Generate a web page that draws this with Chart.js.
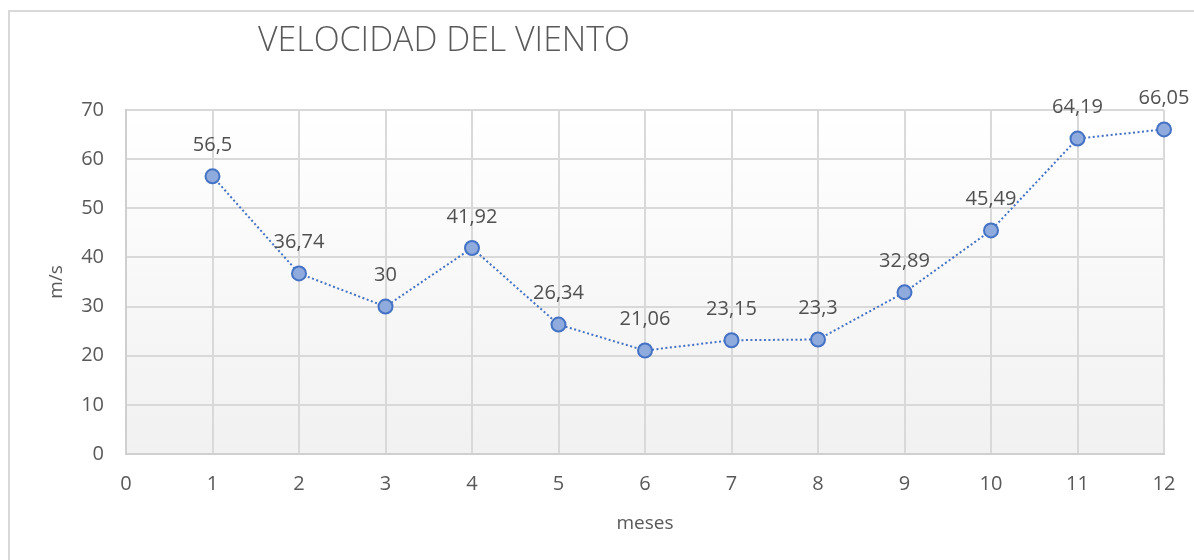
<!DOCTYPE html>
<html>
<head>
<meta charset="utf-8">
<script src="https://cdn.jsdelivr.net/npm/chart.js@4/dist/chart.umd.min.js"></script>
<style>
  html, body { margin: 0; padding: 0; background: #ffffff; }
  canvas { display: block; }
</style>
</head>
<body>
<canvas id="vientoChart" width="1194" height="560"></canvas>
<script>
const chartTitle = 'VELOCIDAD DEL VIENTO';
const meses = [1, 2, 3, 4, 5, 6, 7, 8, 9, 10, 11, 12];
const velocidad = [56.5, 36.74, 30, 41.92, 26.34, 21.06, 23.15, 23.3, 32.89, 45.49, 64.19, 66.05];
const xTicks = [0, 1, 2, 3, 4, 5, 6, 7, 8, 9, 10, 11, 12];
const yTicks = [0, 10, 20, 30, 40, 50, 60, 70];

const textColor = '#595959';
const gridColor = '#d9d9d9';

// outer frame, plot gradient and title (Excel look)
const backgroundPlugin = {
  id: 'excelBackground',
  beforeDraw(chart) {
    const ctx = chart.ctx;
    const a = chart.chartArea;
    ctx.save();
    ctx.strokeStyle = gridColor;
    ctx.lineWidth = 2;
    ctx.strokeRect(9, 11, 1300, 700);

    const grad = ctx.createLinearGradient(0, a.top, 0, a.bottom);
    grad.addColorStop(0, '#ffffff');
    grad.addColorStop(1, '#f1f1f1');
    ctx.fillStyle = grad;
    ctx.fillRect(a.left, a.top, a.right - a.left, a.bottom - a.top);

    ctx.font = '300 34px "Open Sans"';
    ctx.fillStyle = textColor;
    ctx.textBaseline = 'middle';
    ctx.textAlign = 'left';
    const w = ctx.measureText(chartTitle).width;
    ctx.translate(258, 41);
    ctx.scale(372 / w, 1);
    ctx.fillText(chartTitle, 0, 0);
    ctx.restore();
  }
};

// value labels above each point, decimal comma
const labelPlugin = {
  id: 'valueLabels',
  afterDatasetsDraw(chart) {
    const ctx = chart.ctx;
    const meta = chart.getDatasetMeta(0);
    ctx.save();
    ctx.font = '20px "Open Sans"';
    ctx.fillStyle = '#505050';
    ctx.textAlign = 'center';
    ctx.textBaseline = 'middle';
    meta.data.forEach((pt, i) => {
      const txt = String(velocidad[i]).replace('.', ',');
      ctx.fillText(txt, pt.x, pt.y - 31);
    });
    ctx.restore();
  }
};

const ctx = document.getElementById('vientoChart').getContext('2d');

new Chart(ctx, {
  type: 'scatter',
  data: {
    datasets: [{
      data: meses.map((m, i) => ({ x: m, y: velocidad[i] })),
      showLine: true,
      borderColor: '#4472c4',
      borderWidth: 2,
      borderDash: [2, 2.5],
      pointRadius: 7,
      pointHoverRadius: 7,
      pointBackgroundColor: '#8faadc',
      pointBorderColor: '#4472c4',
      pointBorderWidth: 2,
      clip: false
    }]
  },
  options: {
    responsive: false,
    animation: false,
    layout: { padding: { top: 110, right: 30, left: 0, bottom: 0 } },
    plugins: {
      legend: { display: false },
      title: { display: false },
      tooltip: { enabled: false }
    },
    scales: {
      x: {
        type: 'linear',
        min: 0,
        max: 12,
        afterBuildTicks(scale) { scale.ticks = xTicks.map(v => ({ value: v })); },
        afterFit(scale) { scale.height = 106; },
        grid: { color: gridColor, lineWidth: 2, drawTicks: false },
        border: { color: '#cfcfcf', width: 2 },
        ticks: {
          color: textColor,
          font: { family: 'Open Sans', size: 20 },
          padding: 18
        },
        title: {
          display: true,
          text: 'meses',
          color: textColor,
          font: { family: 'Open Sans', size: 19 },
          padding: { top: 0, bottom: 25 }
        }
      },
      y: {
        min: 0,
        max: 70,
        afterBuildTicks(scale) { scale.ticks = yTicks.map(v => ({ value: v })); },
        afterFit(scale) { scale.width = 126; },
        grid: { color: gridColor, lineWidth: 2, drawTicks: false },
        border: { color: '#cfcfcf', width: 2 },
        ticks: {
          color: textColor,
          font: { family: 'Open Sans', size: 20 },
          padding: 22
        },
        title: {
          display: true,
          text: 'm/s',
          color: textColor,
          font: { family: 'Open Sans', size: 19 },
          padding: { top: 45, bottom: 0 }
        }
      }
    }
  },
  plugins: [backgroundPlugin, labelPlugin]
});
</script>
</body>
</html>
